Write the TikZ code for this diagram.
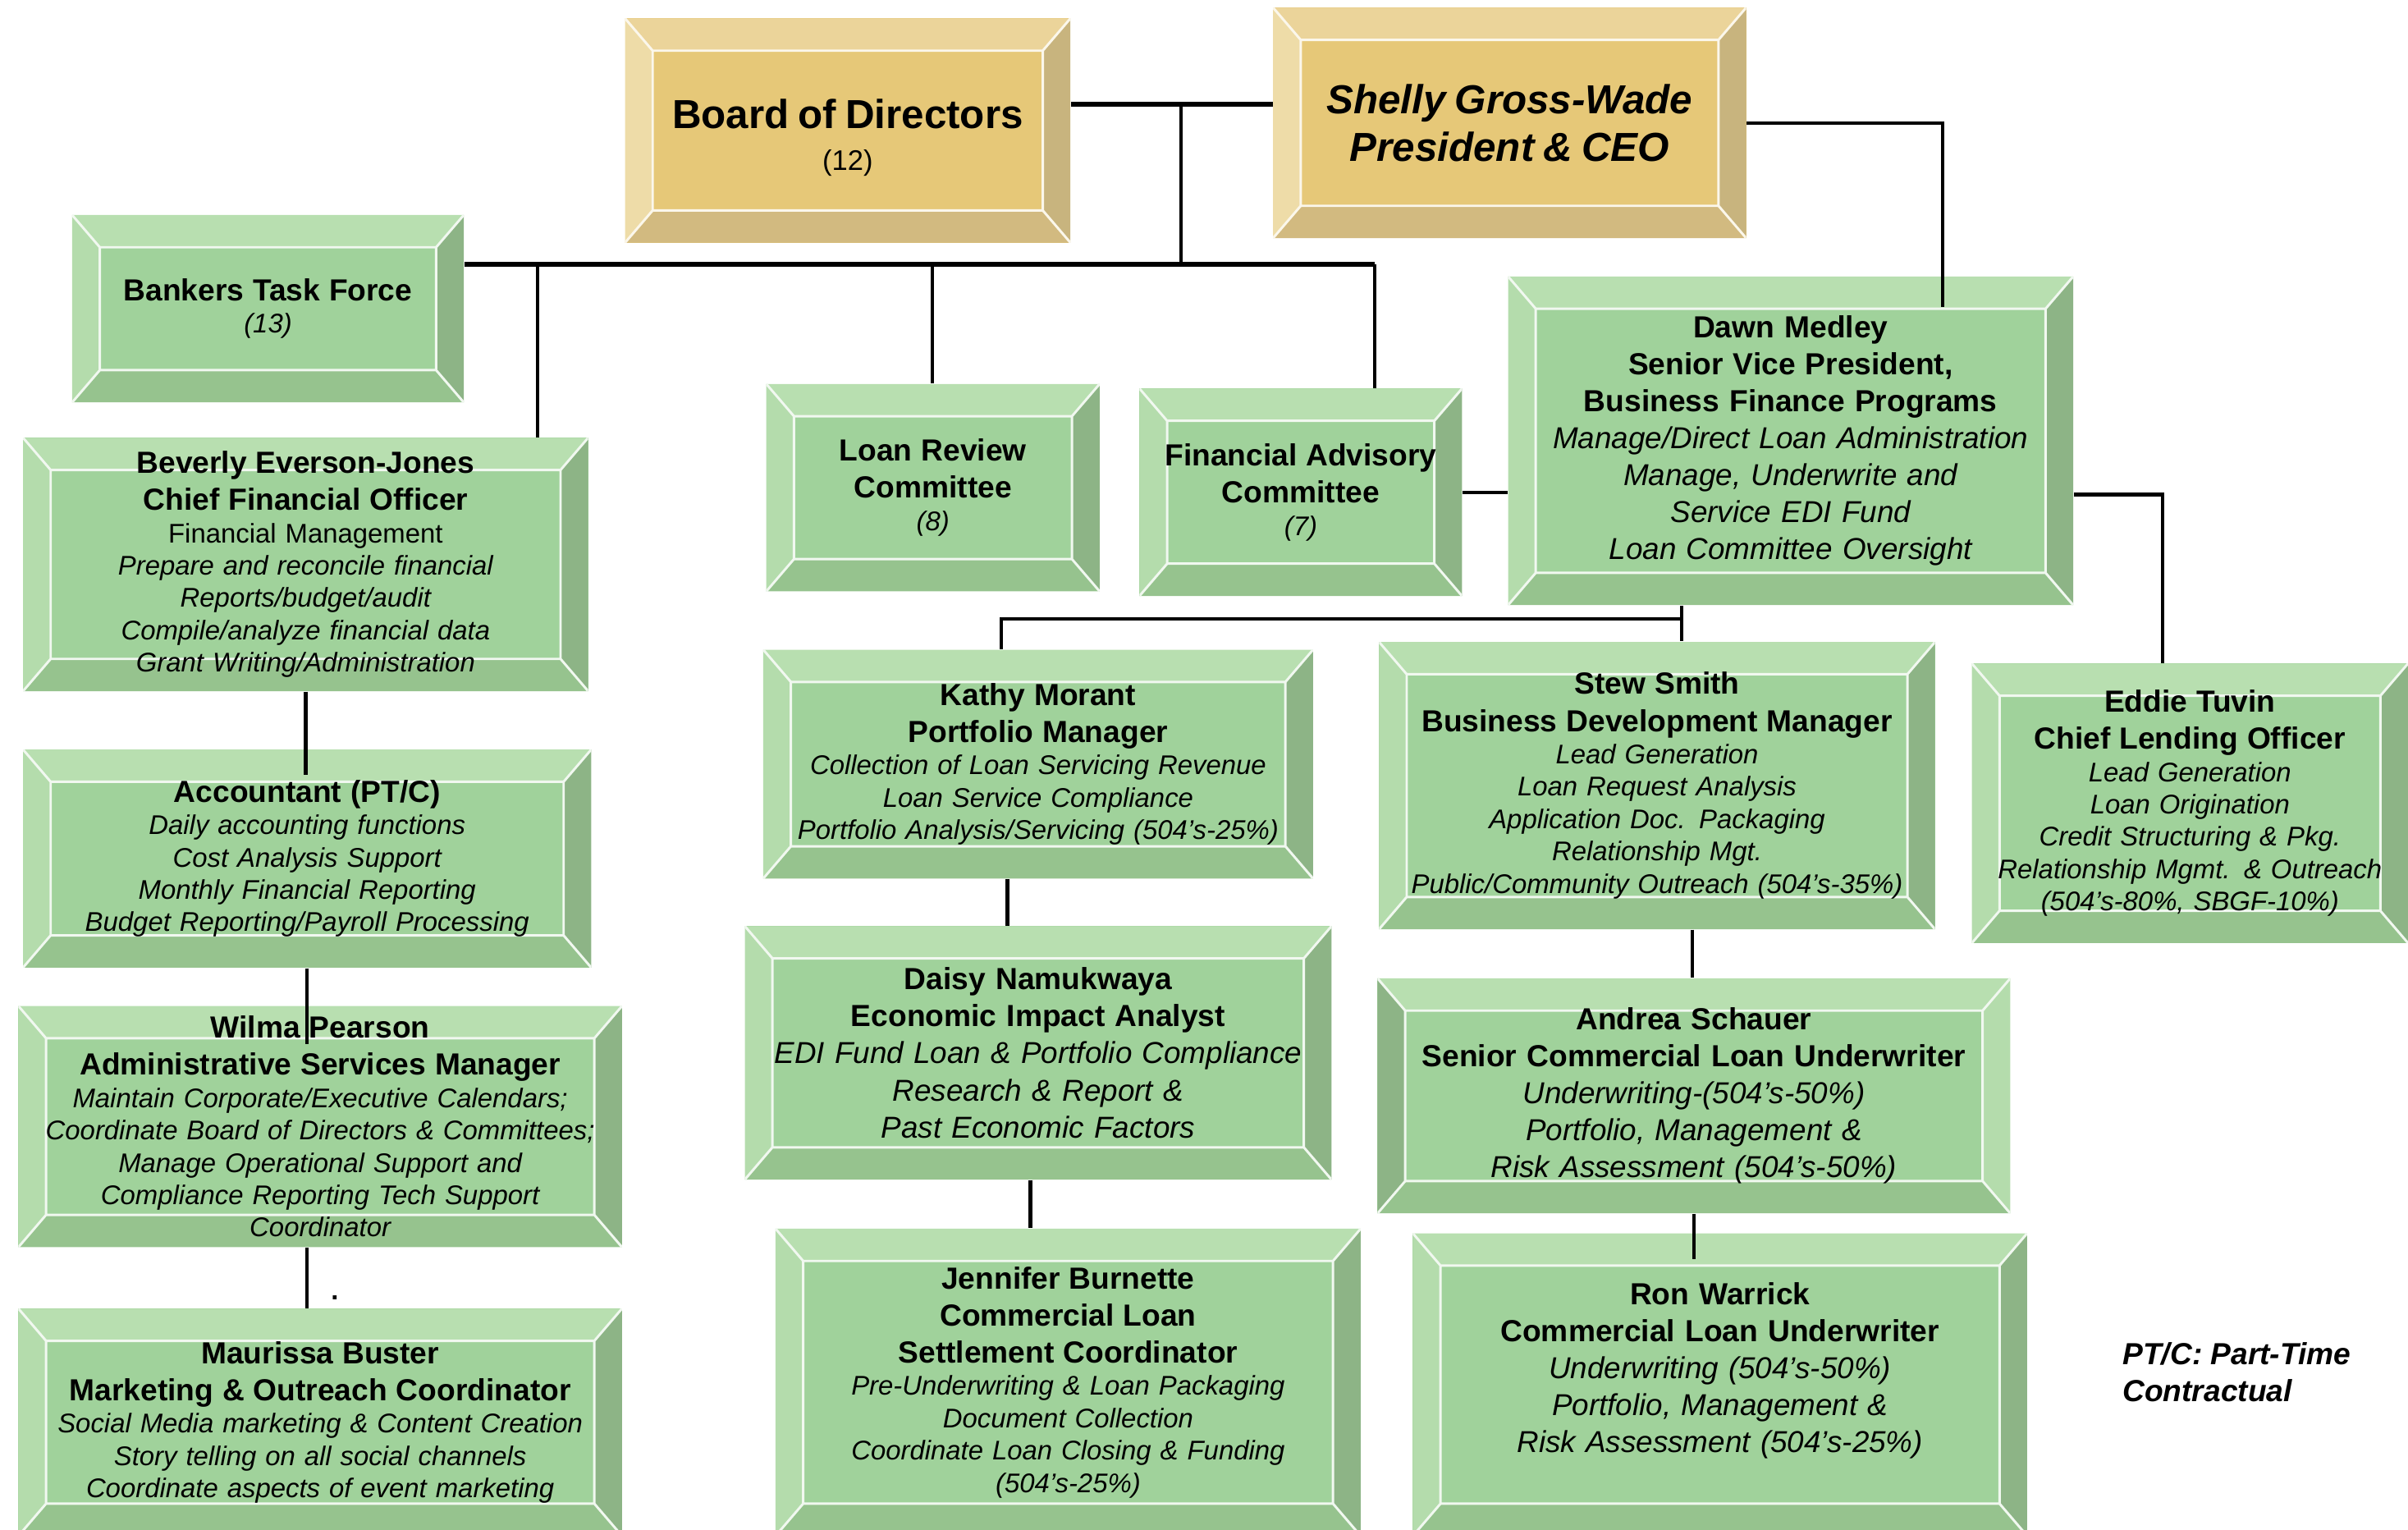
\documentclass[tikz,border=0pt]{standalone}
\usepackage{fontspec}
\setmainfont{Liberation Sans}
\usepackage{tikz}
\usetikzlibrary{calc}

% box colours: face, top, left, right, bottom
\definecolor{gface}{HTML}{A0D29B}
\definecolor{gtop}{HTML}{B8DFB0}
\definecolor{gleft}{HTML}{B4DCAC}
\definecolor{gright}{HTML}{8DB486}
\definecolor{gbot}{HTML}{96C38E}
\definecolor{aface}{HTML}{A0D29B}
\definecolor{atop}{HTML}{B8DFB0}
\definecolor{aleft}{HTML}{8DB486}
\definecolor{aright}{HTML}{B4DCAC}
\definecolor{abot}{HTML}{96C38E}
\definecolor{yface}{HTML}{E6C878}
\definecolor{ytop}{HTML}{EBD49A}
\definecolor{yleft}{HTML}{EEDCA8}
\definecolor{yright}{HTML}{C8B47E}
\definecolor{ybot}{HTML}{D2BA80}

\newcommand{\bvx}{3.6mm}
\newcommand{\bvy}{4.2mm}
\newcommand{\ttl}{\fontsize{11.3}{13.7}\selectfont\bfseries\upshape}

\begin{document}
\begin{tikzpicture}[x=0.2mm, y=-0.2mm,
        bevel/.style={rectangle, inner sep=0pt, align=center, fill=#1face,
            path picture={
                \coordinate (nw) at (path picture bounding box.north west);
                \coordinate (se) at (path picture bounding box.south east);
                \coordinate (ne) at (nw -| se);
                \coordinate (sw) at (se -| nw);
                \coordinate (inw) at ([shift={(\bvx,-\bvy)}]nw);
                \coordinate (ine) at ([shift={(-\bvx,-\bvy)}]ne);
                \coordinate (ise) at ([shift={(-\bvx,\bvy)}]se);
                \coordinate (isw) at ([shift={(\bvx,\bvy)}]sw);
                \fill[#1top] (nw) -- (ne) -- (ine) -- (inw) -- cycle;
                \fill[#1right] (ne) -- (se) -- (ise) -- (ine) -- cycle;
                \fill[#1bot] (se) -- (sw) -- (isw) -- (ise) -- cycle;
                \fill[#1left] (sw) -- (nw) -- (inw) -- (isw) -- cycle;
                \draw[white!85!#1face, line width=0.9pt] (inw) -- (ine) -- (ise) -- (isw) -- cycle
                    (nw) -- (inw) (ne) -- (ine) (se) -- (ise) (sw) -- (isw);
            }},
        gbox/.style={bevel=g},
        abox/.style={bevel=a},
        ybox/.style={bevel=y},
        small/.style={font=\fontsize{10}{12}\selectfont\itshape},
        large/.style={font=\fontsize{11.2}{13.7}\selectfont\itshape},
        link/.style={line width=1.3pt},
        bus/.style={line width=1.8pt}]
    \useasboundingbox (0,0) rectangle (1568,996);

    % top row
    \node[ybox, text width=58mm, minimum height=29.2mm] (board) at (552,85)
        {{\fontsize{15}{17.5}\selectfont\bfseries\rule{0pt}{16pt}Board of Directors\par}\fontsize{10.5}{15.5}\selectfont (12)\par};
    \node[ybox, text width=61.6mm, minimum height=30mm] (ceo) at (983,80)
        {\fontsize{15}{17.6}\selectfont\bfseries\itshape Shelly Gross-Wade\\ President \& CEO\par};

    % committees
    \node[gbox, small, text width=51mm, minimum height=24.4mm] (btf) at (174.5,201)
        {{\ttl Bankers Task Force\par}(13)};
    \node[gbox, small, text width=43.4mm, minimum height=27mm] (lrc) at (607.5,317.5)
        {{\ttl Loan Review\\ Committee\par}(8)};
    \node[gbox, small, text width=42mm, minimum height=27mm] (fac) at (847,320.5)
        {{\ttl Financial Advisory\\ Committee\par}(7)};
    \node[gbox, large, text width=73.6mm, minimum height=42.8mm] (svp) at (1166,287)
        {{\ttl Dawn Medley\\ Senior Vice President,\\ Business Finance Programs\par}
         Manage/Direct Loan Administration\\ Manage, Underwrite and\\ Service EDI Fund\\ Loan Committee Oversight};

    % finance and administration
    \node[gbox, small, text width=73.6mm, minimum height=33mm] (cfo) at (199,367.5)
        {{\ttl Beverly Everson-Jones\\ Chief Financial Officer\par}
         {\upshape Financial Management}\\ Prepare and reconcile financial\\ Reports/budget/audit\\
         Compile/analyze financial data\\ Grant Writing/Administration};
    \node[gbox, small, text width=74mm, minimum height=28.4mm] (acct) at (200,559)
        {{\ttl Accountant (PT/C)\par}
         Daily accounting functions\\ Cost Analysis Support\\ Monthly Financial Reporting\\
         Budget Reporting/Payroll Processing};
    \node[gbox, small, text width=78.6mm, minimum height=31.4mm] (wilma) at (208.5,733.5)
        {{\ttl Wilma Pearson\\ Administrative Services Manager\par}
         Maintain Corporate/Executive Calendars;\\ Coordinate Board of Directors \& Committees;\\
         Manage Operational Support and\\ Compliance Reporting Tech Support\\ Coordinator};
    \node[gbox, small, text width=78.6mm, minimum height=29.6mm] (maur) at (208.5,926)
        {{\ttl Maurissa Buster\\ Marketing \& Outreach Coordinator\par}
         Social Media marketing \& Content Creation\\ Story telling on all social channels\\
         Coordinate aspects of event marketing};

    % portfolio
    \node[gbox, small, text width=71.6mm, minimum height=29.8mm] (kathy) at (676,497.5)
        {{\ttl Kathy Morant\\ Portfolio Manager\par}
         Collection of Loan Servicing Revenue\\ Loan Service Compliance\\
         Portfolio Analysis/Servicing (504's-25\%)};
    \node[gbox, large, text width=76.4mm, minimum height=33mm] (daisy) at (676,685.5)
        {{\ttl Daisy Namukwaya\\ Economic Impact Analyst\par}
         EDI Fund Loan \& Portfolio Compliance\\ Research \& Report \&\\ Past Economic Factors};
    \node[gbox, small, text width=76.2mm, minimum height=40mm] (jenn) at (695.5,900)
        {{\ttl Jennifer Burnette\\ Commercial Loan\\ Settlement Coordinator\par}
         Pre-Underwriting \& Loan Packaging\\ Document Collection\\
         Coordinate Loan Closing \& Funding\\ (504's-25\%)};

    % lending
    \node[gbox, small, text width=72.4mm, minimum height=37.4mm] (stew) at (1079,511.5)
        {{\ttl Stew Smith\\ Business Development Manager\par}
         Lead Generation\\ Loan Request Analysis\\ Application Doc. Packaging\\
         Relationship Mgt.\\ Public/Community Outreach (504's-35\%)};
    \node[gbox, small, text width=56.8mm, minimum height=36.4mm] (eddie) at (1426,523)
        {{\ttl Eddie Tuvin\\ Chief Lending Officer\par}
         Lead Generation\\ Loan Origination\\ Credit Structuring \& Pkg.\\
         Relationship Mgmt. \& Outreach\\ (504's-80\%, SBGF-10\%)};
    \node[abox, large, text width=82.4mm, minimum height=30.6mm] (andrea) at (1103,713.5)
        {{\ttl Andrea Schauer\\ Senior Commercial Loan Underwriter\par}
         Underwriting-(504's-50\%)\\ Portfolio, Management \&\\ Risk Assessment (504's-50\%)};
    \node[gbox, large, text width=80mm, minimum height=39.4mm] (ron) at (1120,901.5)
        {{\ttl Ron Warrick\\ Commercial Loan Underwriter\par}
         Underwriting (504's-50\%)\\ Portfolio, Management \&\\ Risk Assessment (504's-25\%)\rule[-4.5mm]{0pt}{0pt}};

    \node[anchor=north west, align=left, font=\fontsize{11.3}{13.7}\selectfont\bfseries\itshape] (ptc) at (1376,868)
        {PT/C: Part-Time\\ Contractual};
    \node[font=\bfseries, inner sep=0pt, anchor=base] (dot) at (218,846) {.};

    % connectors
    \coordinate (j0) at (769,68);
    \coordinate (b1) at (350,172);
    \coordinate (b2) at (607,172);
    \coordinate (b3) at (895,172);
    \coordinate (c1) at (1265,80);
    \coordinate (e1) at (1408,322);
    \coordinate (s1) at (1095,403);
    \coordinate (k1) at (652,403);
    \draw[bus] (board.east |- j0) -- (ceo.west |- j0);
    \draw[link] (j0) -- (j0 |- b1);
    \draw[bus] (btf.east |- b1) -- (b3);
    \draw[link] (b1) -- (cfo.north -| b1);
    \draw[link] (b2) -- (lrc.north -| b2);
    \draw[link] (b3) -- (fac.north -| b3);
    \draw[link] (ceo.east |- c1) -- (c1) -- ([yshift=-4mm]svp.north -| c1);
    \draw[link] (fac.east) -- (fac.east -| svp.west);
    \draw[link] (svp.east |- e1) -- (e1) -- (eddie.north -| e1);
    \draw[link] (svp.south -| s1) -- (stew.north -| s1);
    \draw[link] (s1) -- (k1) -- (kathy.north -| k1);
    \draw[link] ([xshift=-4mm]kathy.south) -- ([xshift=-4mm]kathy.south |- daisy.north);
    \draw[link] ([xshift=-1mm]daisy.south) -- ([xshift=-1mm]daisy.south |- jenn.north);
    \draw[link] ([xshift=4.6mm]stew.south) -- ([xshift=4.6mm]stew.south |- andrea.north);
    \draw[link] (andrea.south) -- ([yshift=-3.4mm]andrea.south |- ron.north);
    \draw[link] (cfo.south) -- ([yshift=-3.4mm]cfo.south |- acct.north);
    \draw[link] (acct.south) -- ([yshift=-5mm]acct.south |- wilma.north);
    \draw[link] (wilma.south -| acct.south) -- (acct.south |- maur.north);
\end{tikzpicture}
\end{document}
